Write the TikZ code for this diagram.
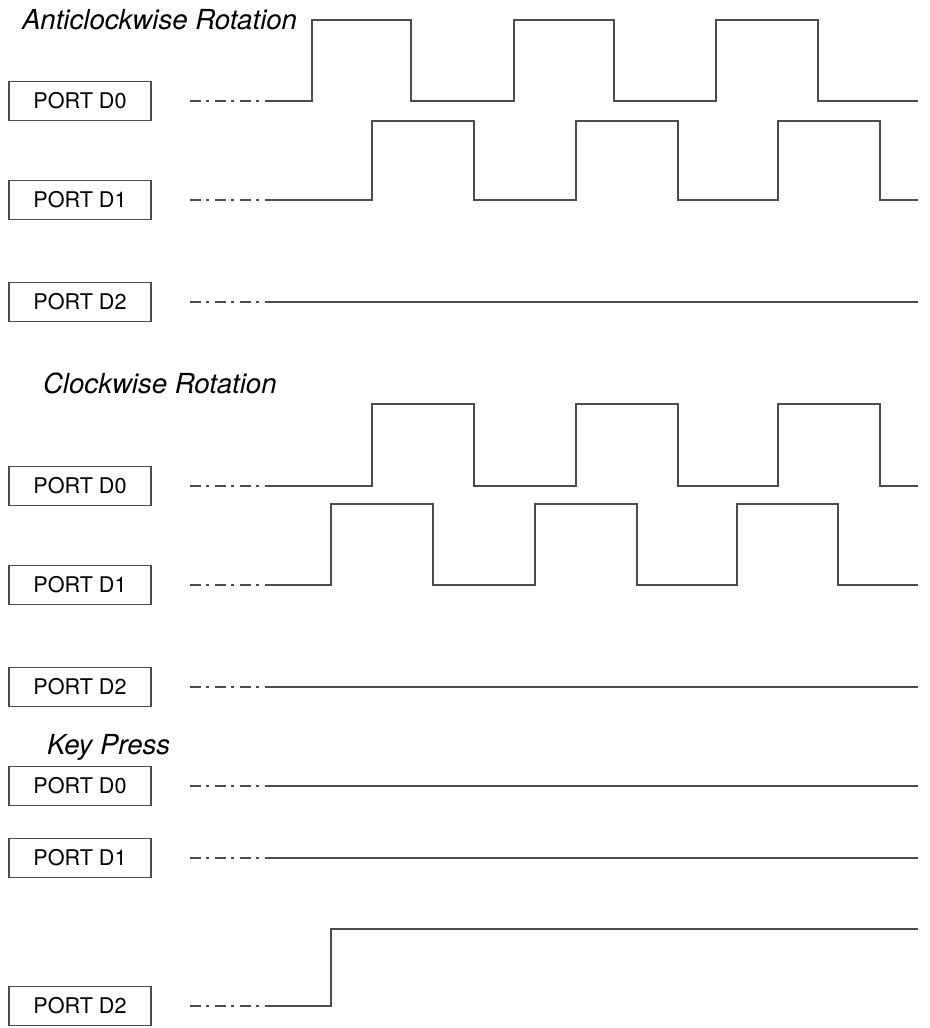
\documentclass[tikz,border=0pt]{standalone}
\usepackage{fontspec}
\setmainfont{TeX Gyre Heros}
\usepackage{tikz}
\usetikzlibrary{positioning}

\begin{document}
\begin{tikzpicture}[x=0.5pt,y=-0.5pt,
  port/.style={draw=black!70, line width=0.9pt, minimum width=71pt, minimum height=19.5pt, inner sep=0pt, font=\fontsize{10.8}{12}\selectfont},
  title/.style={anchor=west, font=\fontsize{13.8}{16}\selectfont\itshape},
  sig/.style={line width=1pt, black!70},
  lead/.style={sig, dash pattern=on 5.5pt off 2.5pt on 1.5pt off 3pt}
]
\useasboundingbox (0,0) rectangle (930,1028);

% Anticlockwise rotation
\node[title] (acl) at (15,20) {Anticlockwise Rotation};

\node[port] (ac0) at (80,101) {PORT D0};
\coordinate (ac0a) at (190,101);
\coordinate (ac0b) at (266,101);
\draw[lead] (ac0a) -- (ac0b);
\draw[sig] (ac0b) -- (312,101) |- (411,20) |- (514,101) |- (614,20) |- (716,101) |- (818,20) |- (918,101);

\node[port] (ac1) at (80,200) {PORT D1};
\coordinate (ac1a) at (190,200);
\coordinate (ac1b) at (266,200);
\draw[lead] (ac1a) -- (ac1b);
\draw[sig] (ac1b) -- (372,200) |- (474,121) |- (576,200) |- (678,121) |- (778,200) |- (880,121) |- (918,200);

\node[port] (ac2) at (80,302) {PORT D2};
\coordinate (ac2a) at (190,302);
\coordinate (ac2b) at (266,302);
\draw[lead] (ac2a) -- (ac2b);
\draw[sig] (ac2b) -- (918,302);

% Clockwise rotation
\node[title] (cwl) at (36,383) {Clockwise Rotation};

\node[port] (cw0) at (80,486) {PORT D0};
\coordinate (cw0a) at (190,486);
\coordinate (cw0b) at (266,486);
\draw[lead] (cw0a) -- (cw0b);
\draw[sig] (cw0b) -- (372,486) |- (474,404) |- (576,486) |- (678,404) |- (778,486) |- (880,404) |- (918,486);

\node[port] (cw1) at (80,585) {PORT D1};
\coordinate (cw1a) at (190,585);
\coordinate (cw1b) at (266,585);
\draw[lead] (cw1a) -- (cw1b);
\draw[sig] (cw1b) -- (331,585) |- (433,504) |- (535,585) |- (637,504) |- (737,585) |- (838,504) |- (918,585);

\node[port] (cw2) at (80,687) {PORT D2};
\coordinate (cw2a) at (190,687);
\coordinate (cw2b) at (266,687);
\draw[lead] (cw2a) -- (cw2b);
\draw[sig] (cw2b) -- (918,687);

% Key press
\node[title] (kpl) at (40,747) {Key Press};

\node[port] (kp0) at (80,786) {PORT D0};
\coordinate (kp0a) at (190,786);
\coordinate (kp0b) at (266,786);
\draw[lead] (kp0a) -- (kp0b);
\draw[sig] (kp0b) -- (918,786);

\node[port] (kp1) at (80,858) {PORT D1};
\coordinate (kp1a) at (190,858);
\coordinate (kp1b) at (266,858);
\draw[lead] (kp1a) -- (kp1b);
\draw[sig] (kp1b) -- (918,858);

\node[port] (kp2) at (80,1006) {PORT D2};
\coordinate (kp2a) at (190,1006);
\coordinate (kp2b) at (266,1006);
\draw[lead] (kp2a) -- (kp2b);
\draw[sig] (kp2b) -- (331,1006) |- (918,929);

\end{tikzpicture}
\end{document}
